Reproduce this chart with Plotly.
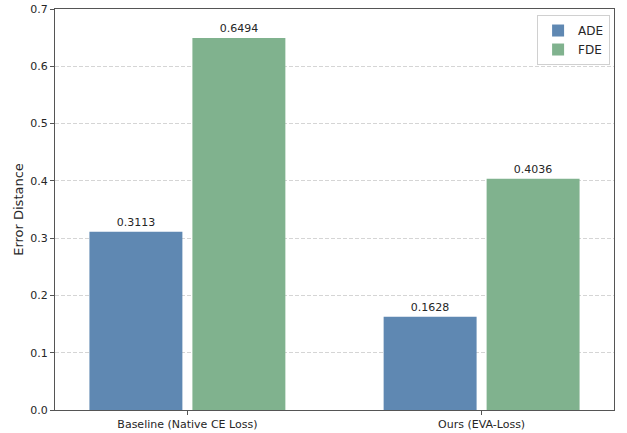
import plotly.graph_objects as go

categories = ["Baseline (Native CE Loss)", "Ours (EVA-Loss)"]
ade_values = [0.3113, 0.1628]
fde_values = [0.6494, 0.4036]
y_ticks = [0.0, 0.1, 0.2, 0.3, 0.4, 0.5, 0.6, 0.7]

font_family = "DejaVu Sans"
label_color = "#262626"

fig = go.Figure()
fig.add_trace(go.Bar(
    name="ADE", x=categories, y=ade_values,
    marker=dict(color="#5f88b2", line=dict(width=0)),
    width=0.316, offset=-0.333,
    texttemplate="%{y:.4f}", textposition="outside",
    textfont=dict(size=11, color=label_color, family=font_family),
    cliponaxis=False,
))
fig.add_trace(go.Bar(
    name="FDE", x=categories, y=fde_values,
    marker=dict(color="#80b28e", line=dict(width=0)),
    width=0.316, offset=0.017,
    texttemplate="%{y:.4f}", textposition="outside",
    textfont=dict(size=11, color=label_color, family=font_family),
    cliponaxis=False,
))

fig.update_layout(
    width=627, height=433,
    margin=dict(l=55, r=13, t=9, b=23, autoexpand=False),
    plot_bgcolor="white", paper_bgcolor="white",
    font=dict(family=font_family, size=11, color=label_color),
    barmode="group",
    showlegend=True,
    legend=dict(
        x=0.993, y=0.985, xanchor="right", yanchor="top",
        bgcolor="rgba(255,255,255,0.9)", bordercolor="#d0d0d0", borderwidth=1,
        font=dict(size=12, color=label_color, family=font_family),
        itemwidth=30, tracegroupgap=2,
    ),
)
fig.update_xaxes(
    type="category", range=[-0.45, 1.45], automargin=False,
    showline=True, mirror=True, linecolor="#555555", linewidth=1,
    ticks="outside", ticklen=4, tickcolor="#555555",
    tickfont=dict(size=11, color=label_color),
    showgrid=False,
)
fig.update_yaxes(
    range=[0, 0.7], tickvals=y_ticks, tickformat=".1f", automargin=False,
    showline=True, mirror=True, linecolor="#555555", linewidth=1,
    ticks="outside", ticklen=4, tickcolor="#555555",
    tickfont=dict(size=11, color=label_color),
    showgrid=True, gridcolor="#d5d5d5", griddash="4px,2px", gridwidth=1,
    zeroline=False,
    title=dict(text="Error Distance", font=dict(size=13, color=label_color), standoff=3),
)

# remove the page's default 8px body margin so the figure fills the window
fig.write_html(
    "out.html",
    config={"displayModeBar": False},
    post_script="document.body.style.margin='0';",
)
